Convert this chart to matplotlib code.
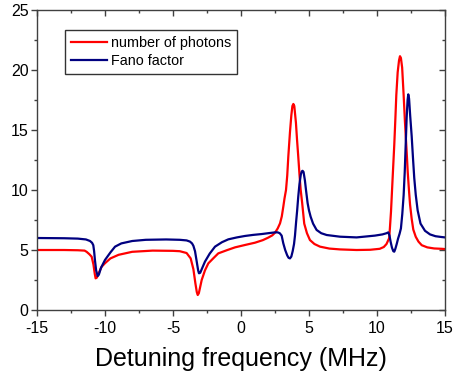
import numpy as np
import matplotlib
matplotlib.use('Agg')
import matplotlib.pyplot as plt
from matplotlib.ticker import MultipleLocator

plt.rcParams['font.family'] = ['Liberation Sans', 'DejaVu Sans']
plt.rcParams['axes.unicode_minus'] = False

# number of photons (red)
photons_x = [-15, -13, -12, -11.5, -11.35, -11.15, -10.98, -10.85, -10.75, -10.69,
             -10.6, -10.45, -10.25, -10.0, -9.6, -9.0, -8.0, -6.5, -5.0, -4.5,
             -4.0, -3.7, -3.5, -3.35, -3.25, -3.18, -3.1, -2.89, -2.65, -2.4,
             -2.0, -1.67, -1.0, -0.44, 0.3, 1.03, 1.6, 2.0, 2.3, 2.5,
             2.7, 2.87, 3.0, 3.11, 3.2, 3.31, 3.4, 3.48, 3.6, 3.7,
             3.78, 3.85, 3.92, 4.04, 4.12, 4.21, 4.3, 4.39, 4.5, 4.65,
             4.85, 5.07, 5.4, 5.81, 6.5, 7.28, 8.5, 9.5, 10.2, 10.5,
             10.7, 10.82, 10.9, 10.96, 11.03, 11.15, 11.27, 11.35, 11.42, 11.52,
             11.62, 11.69, 11.76, 11.85, 11.96, 12.05, 12.13, 12.2, 12.26, 12.35,
             12.43, 12.55, 12.67, 12.85, 13.05, 13.29, 13.7, 14.2, 14.76, 15]
photons_y = [5.0, 5.0, 4.98, 4.95, 4.85, 4.65, 4.44, 3.8, 3.0, 2.64,
             2.7, 3.1, 3.6, 3.9, 4.3, 4.6, 4.85, 4.95, 4.93, 4.9,
             4.75, 4.3, 3.4, 2.2, 1.5, 1.25, 1.4, 2.5, 3.3, 3.89,
             4.35, 4.72, 5.0, 5.22, 5.42, 5.61, 5.82, 6.03, 6.22, 6.44,
             6.8, 7.22, 7.8, 8.6, 9.3, 10.0, 11.2, 12.8, 14.8, 16.2,
             17.0, 17.17, 17.0, 15.6, 14.2, 12.8, 11.3, 10.0, 8.9, 7.2,
             6.4, 5.83, 5.5, 5.28, 5.12, 5.05, 5.0, 5.02, 5.1, 5.25,
             5.5, 5.8, 6.0, 7.0, 8.2, 11.0, 13.75, 15.9, 17.9, 19.8,
             20.8, 21.15, 21.0, 20.2, 17.9, 15.8, 14.2, 12.8, 11.5, 10.0,
             8.8, 7.6, 6.7, 6.1, 5.7, 5.4, 5.22, 5.13, 5.1, 5.08]

# Fano factor (navy)
fano_x = [-15, -13, -12, -11.4, -11.1, -10.95, -10.86, -10.8, -10.74, -10.65,
          -10.54, -10.45, -10.3, -10.0, -9.6, -9.26, -8.8, -8.0, -7.0, -5.5,
          -4.5, -4.0, -3.75, -3.6, -3.5, -3.38, -3.25, -3.15, -3.09, -3.0,
          -2.85, -2.65, -2.3, -1.91, -1.4, -0.93, -0.3, 0.29, 0.9, 1.52,
          2.0, 2.5, 2.7, 2.85, 2.99, 3.11, 3.25, 3.4, 3.5, 3.6,
          3.7, 3.8, 3.9, 3.97, 4.05, 4.13, 4.21, 4.3, 4.4, 4.47,
          4.53, 4.6, 4.7, 4.78, 4.9, 5.0, 5.12, 5.3, 5.56, 5.9,
          6.3, 7.28, 8.5, 9.85, 10.4, 10.7, 10.83, 10.92, 11.0, 11.1,
          11.2, 11.27, 11.35, 11.45, 11.55, 11.66, 11.76, 11.86, 11.96, 12.04,
          12.11, 12.18, 12.25, 12.3, 12.36, 12.44, 12.55, 12.65, 12.74, 12.85,
          12.99, 13.2, 13.53, 13.9, 14.3, 14.76, 15]
fano_y = [6.0, 5.98, 5.95, 5.88, 5.75, 5.6, 5.4, 4.9, 4.17, 3.3,
          2.83, 2.95, 3.5, 4.17, 4.8, 5.28, 5.55, 5.75, 5.85, 5.88,
          5.85, 5.8, 5.7, 5.55, 5.35, 4.9, 4.0, 3.3, 3.06, 3.1,
          3.5, 4.03, 4.7, 5.28, 5.65, 5.89, 6.05, 6.17, 6.26, 6.33,
          6.4, 6.47, 6.47, 6.4, 6.2, 5.56, 5.0, 4.55, 4.35, 4.3,
          4.45, 4.9, 5.5, 6.2, 7.3, 8.3, 9.44, 10.5, 11.3, 11.55,
          11.6, 11.5, 10.8, 10.0, 8.9, 8.3, 7.78, 7.2, 6.67, 6.4,
          6.25, 6.11, 6.05, 6.2, 6.3, 6.4, 6.47, 6.2, 5.7, 5.2,
          4.9, 4.86, 5.1, 5.5, 5.95, 6.35, 6.8, 8.0, 9.58, 11.5,
          13.75, 16.0, 17.5, 17.97, 17.6, 16.2, 14.5, 12.6, 11.0, 9.6,
          8.3, 7.2, 6.6, 6.3, 6.15, 6.08, 6.05]

fig = plt.figure(figsize=(4.55, 3.76), dpi=100)
ax = fig.add_axes([0.0813, 0.1755, 0.8967, 0.7979])

ax.plot(photons_x, photons_y, color='#ff0000', lw=1.6, label='number of photons')
ax.plot(fano_x, fano_y, color='#000080', lw=1.6, label='Fano factor')

ax.set_xlim(-15, 15)
ax.set_ylim(0, 25)
ax.xaxis.set_major_locator(MultipleLocator(5))
ax.xaxis.set_minor_locator(MultipleLocator(2.5))
ax.yaxis.set_major_locator(MultipleLocator(5))
ax.yaxis.set_minor_locator(MultipleLocator(2.5))

for s in ax.spines.values():
    s.set_color('#404040')
    s.set_linewidth(1.0)

# origin style: out on left/bottom, in on top/right
ax.tick_params(which='both', direction='out', top=False, right=False,
               color='#404040', labelsize=11.5)
ax.tick_params(axis='x', pad=4)
ax.tick_params(axis='y', pad=2)
ax.tick_params(which='major', length=4, width=1.0)
ax.tick_params(which='minor', length=2.5, width=1.0)

ax_t = ax.secondary_xaxis('top')
ax_t.xaxis.set_major_locator(MultipleLocator(5))
ax_t.xaxis.set_minor_locator(MultipleLocator(2.5))
ax_t.tick_params(which='both', direction='in', labeltop=False, color='#404040')
ax_t.tick_params(which='major', length=4, width=1.0)
ax_t.tick_params(which='minor', length=2.5, width=1.0)
ax_t.spines['top'].set_visible(False)

ax_r = ax.secondary_yaxis('right')
ax_r.yaxis.set_major_locator(MultipleLocator(5))
ax_r.yaxis.set_minor_locator(MultipleLocator(2.5))
ax_r.tick_params(which='both', direction='in', labelright=False, color='#404040')
ax_r.tick_params(which='major', length=4, width=1.0)
ax_r.tick_params(which='minor', length=2.5, width=1.0)
ax_r.spines['right'].set_visible(False)

ax.set_xlabel('Detuning frequency (MHz)', fontsize=18, labelpad=8)

leg = ax.legend(loc='upper left', bbox_to_anchor=(0.069, 0.933), fontsize=10.4,
                frameon=True, fancybox=False, framealpha=1, borderaxespad=0,
                handlelength=2.5, handletextpad=0.25, borderpad=0.42,
                labelspacing=0.25)
leg.get_frame().set_edgecolor('#333333')
leg.get_frame().set_linewidth(1.0)

fig.savefig('out.png', dpi=100)
